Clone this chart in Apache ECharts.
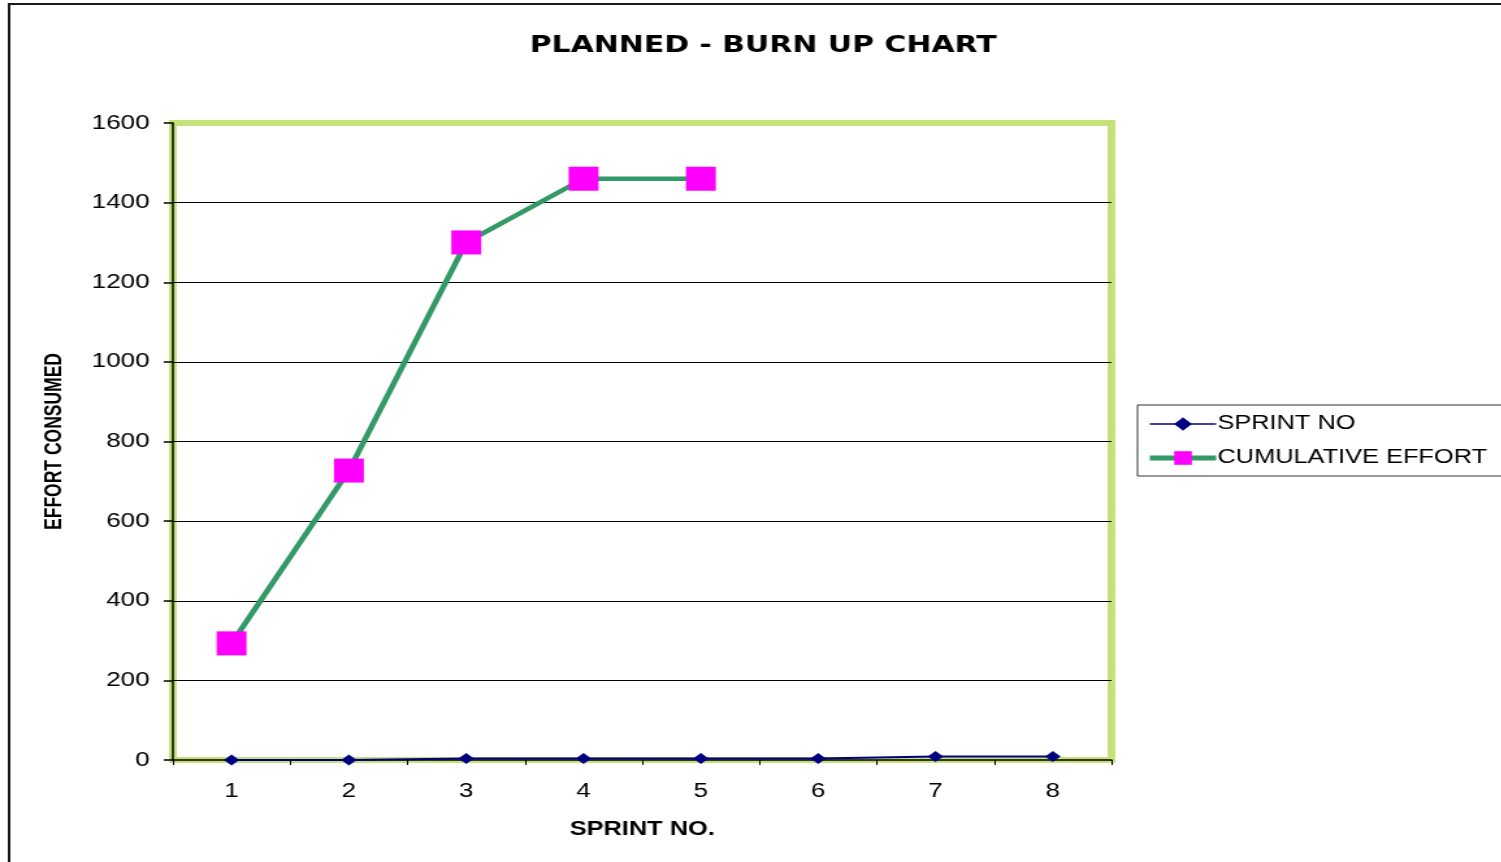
<!DOCTYPE html>
<html>
<head>
<meta charset="utf-8">
<title>Planned - Burn Up Chart</title>
<script src="https://cdn.jsdelivr.net/npm/echarts@6/dist/echarts.min.js"></script>
<style>
  html, body { margin: 0; padding: 0; background: #fff; overflow: hidden; }
  /* the chart is laid out on a narrower canvas and widened horizontally */
  #chart { width: 1155px; height: 862px; transform: scaleX(1.3); transform-origin: 0 0; }
</style>
</head>
<body>
<div id="chart"></div>
<script>
// Sprint numbers on the category axis
const categories = ['1', '2', '3', '4', '5', '6', '7', '8'];
// "SPRINT NO" series (hugs the zero line)
const sprintNo = [0, 0, 4, 4, 4, 4, 9, 9];
// Cumulative effort per sprint (only sprints 1-5 planned)
const cumulativeEffort = [293, 727, 1300, 1460, 1460];
// Effort axis range and step
const effortMin = 0;
const effortMax = 1600;
const effortStep = 200;

const FONT = 'Liberation Sans, Arial, sans-serif';

const chart = echarts.init(document.getElementById('chart'), null, { renderer: 'canvas' });

chart.setOption({
  backgroundColor: '#ffffff',
  animation: false,
  title: {
    text: 'PLANNED - BURN UP CHART',
    left: 587,
    textAlign: 'center',
    top: 35,
    padding: 0,
    textStyle: { fontFamily: 'DejaVu Sans', fontWeight: 'bold', fontSize: 23, color: '#000' }
  },
  graphic: [
    {
      // outer frame of the chart sheet
      type: 'rect',
      silent: true,
      shape: { x: 7, y: 4, width: 1300, height: 1000 },
      style: { fill: 'none', stroke: '#1a1a1a', lineWidth: 2 }
    }
  ],
  legend: {
    orient: 'vertical',
    left: 875,
    top: 405,
    padding: [9, 80, 8, 7],
    itemWidth: 51,
    itemHeight: 17,
    itemGap: 14,
    borderColor: '#333',
    borderWidth: 1,
    backgroundColor: '#fff',
    textStyle: { fontFamily: FONT, fontSize: 19.5, color: '#000', lineHeight: 17, padding: [0, 0, 0, -4] },
    data: [
      { name: 'SPRINT NO', lineStyle: { width: 1.5 } },
      { name: 'CUMULATIVE EFFORT', lineStyle: { width: 5 } }
    ]
  },
  grid: {
    left: 133,
    right: 300,
    top: 123,
    bottom: 102,
    show: true,
    backgroundColor: '#fff',
    borderColor: '#c6e07a',
    borderWidth: 6
  },
  xAxis: {
    type: 'category',
    data: categories,
    boundaryGap: true,
    name: 'SPRINT NO.',
    nameLocation: 'middle',
    nameGap: 60,
    nameTextStyle: { fontFamily: FONT, fontWeight: 'bold', fontSize: 19.5, color: '#000' },
    axisLine: { lineStyle: { color: '#000', width: 1.5 } },
    axisTick: { show: true, alignWithLabel: false, length: 5, lineStyle: { color: '#000', width: 1 } },
    axisLabel: { fontFamily: FONT, fontSize: 20, color: '#000', margin: 21 },
    splitLine: { show: false }
  },
  yAxis: {
    type: 'value',
    min: effortMin,
    max: effortMax,
    interval: effortStep,
    name: 'EFFORT CONSUMED',
    nameLocation: 'middle',
    nameRotate: 90,
    nameGap: 82,
    nameTextStyle: { fontFamily: FONT, fontWeight: 'bold', fontSize: 17.5, color: '#000' },
    axisLine: { show: true, lineStyle: { color: '#000', width: 1.5 } },
    axisTick: { show: true, length: 7, lineStyle: { color: '#000', width: 1.5 } },
    axisLabel: {
      fontFamily: FONT, fontSize: 20, color: '#000', margin: 18,
      formatter: (v) => String(v)
    },
    splitLine: { show: true, showMinLine: false, showMaxLine: false, lineStyle: { color: '#000', width: 1 } }
  },
  series: [
    {
      name: 'SPRINT NO',
      type: 'line',
      data: sprintNo,
      symbol: 'diamond',
      symbolSize: [12, 11],
      lineStyle: { color: '#000080', width: 2 },
      itemStyle: { color: '#000080' },
      z: 3
    },
    {
      name: 'CUMULATIVE EFFORT',
      type: 'line',
      data: cumulativeEffort,
      symbol: 'rect',
      symbolSize: [23, 24],
      lineStyle: { color: '#339966', width: 4.5 },
      itemStyle: { color: '#ff00ff' },
      z: 4
    }
  ]
});
</script>
</body>
</html>
